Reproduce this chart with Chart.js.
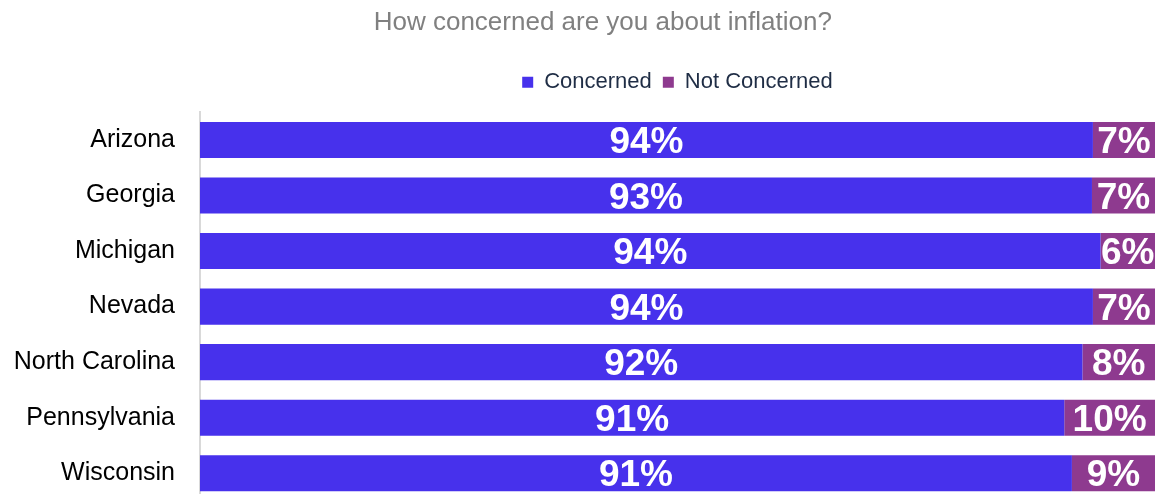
<!DOCTYPE html>
<html>
<head>
<meta charset="utf-8">
<script src="https://cdn.jsdelivr.net/npm/chart.js@4.4.1/dist/chart.umd.min.js"></script>
<style>
  html, body { margin: 0; padding: 0; background: #fff; overflow: hidden; }
  canvas { display: block; }
</style>
</head>
<body>
<!-- taller than the window: the y axis keeps ~40px spare at the bottom, which falls off-screen -->
<canvas id="grafico" width="1155" height="541"></canvas>
<script>
  // data
  var estados = ['Arizona', 'Georgia', 'Michigan', 'Nevada', 'North Carolina', 'Pennsylvania', 'Wisconsin'];
  var concerned = [93.5, 93.4, 94.3, 93.5, 92.4, 90.5, 91.3];
  var notConcerned = [6.5, 6.6, 5.7, 6.5, 7.6, 9.5, 8.7];
  var concernedLabels = ['94%', '93%', '94%', '94%', '92%', '91%', '91%'];
  var notConcernedLabels = ['7%', '7%', '6%', '7%', '8%', '10%', '9%'];

  var fonte = "'Liberation Sans', Arial, sans-serif";

  // draws the white percentages in the middle of each segment
  var rotulos = {
    id: 'rotulos',
    afterDatasetsDraw: function (chart) {
      var ctx = chart.ctx;
      var textos = [concernedLabels, notConcernedLabels];
      ctx.save();
      ctx.fillStyle = '#ffffff';
      ctx.font = 'bold 37px ' + fonte;
      ctx.textAlign = 'center';
      ctx.textBaseline = 'middle';
      chart.data.datasets.forEach(function (ds, i) {
        var meta = chart.getDatasetMeta(i);
        meta.data.forEach(function (bar, j) {
          ctx.fillText(textos[i][j], (bar.x + bar.base) / 2, bar.y + 3);
        });
      });
      ctx.restore();
    }
  };

  var ctx = document.getElementById('grafico').getContext('2d');
  var myChart = new Chart(ctx, {
    type: 'bar',
    data: {
      labels: estados,
      datasets: [{
        label: 'Concerned',
        data: concerned,
        backgroundColor: '#4731EC',
        borderWidth: 0,
        barPercentage: 0.65,
        categoryPercentage: 1
      }, {
        label: 'Not Concerned',
        data: notConcerned,
        backgroundColor: '#8E3A8F',
        borderWidth: 0,
        barPercentage: 0.65,
        categoryPercentage: 1
      }]
    },
    options: {
      indexAxis: 'y',
      responsive: false,
      animation: false,
      layout: { padding: 0 },
      plugins: {
        title: {
          display: true,
          // leading spaces nudge the title a bit right, as in the original
          text: '\u00a0\u00a0\u00a0\u00a0\u00a0\u00a0\u00a0How concerned are you about inflation?',
          color: '#808080',
          font: { family: fonte, size: 26, weight: 'normal' },
          padding: { top: 7, bottom: 22 }
        },
        legend: {
          position: 'top',
          fullSize: false,
          labels: {
            boxWidth: 11,
            boxHeight: 11,
            padding: 11,
            color: '#1F2D45',
            font: { family: fonte, size: 22 }
          }
        },
        tooltip: { enabled: false }
      },
      scales: {
        x: {
          stacked: true,
          position: 'top',
          min: 0,
          max: 100,
          grid: { display: false, drawTicks: false },
          border: { display: false },
          ticks: { display: false },
          // only a small gap under the legend
          afterFit: function (scale) { scale.height = 9; }
        },
        y: {
          stacked: true,
          grid: { display: false, drawTicks: false },
          border: { display: true, color: '#d9d9d9', width: 2 },
          ticks: {
            color: '#000000',
            padding: 25,
            font: { family: fonte, size: 25 }
          },
          afterFit: function (scale) { scale.width = 200; }
        }
      }
    },
    plugins: [rotulos]
  });
</script>
</body>
</html>
